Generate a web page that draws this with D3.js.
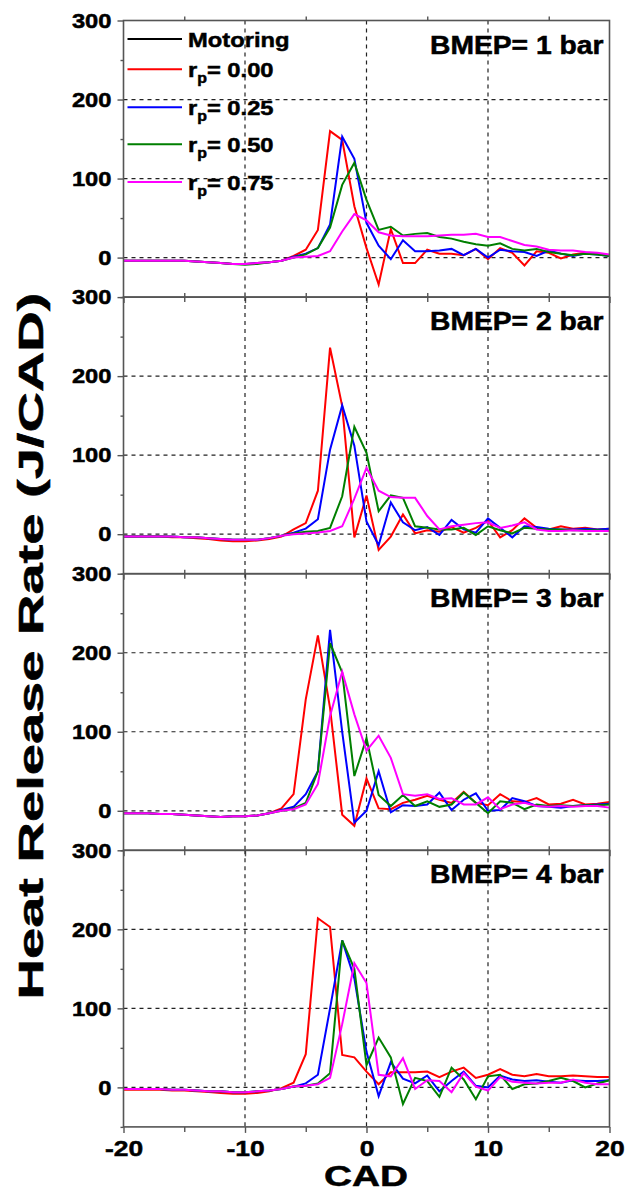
<!DOCTYPE html>
<html>
<head>
<meta charset="utf-8">
<script src="https://cdn.jsdelivr.net/npm/d3@7"></script>
<style>
  body { margin: 0; background: #fff; }
  text { font-family: "Liberation Sans", Arial, sans-serif; font-weight: bold; fill: #000;
         stroke: #000; stroke-width: 0.5px; }
</style>
</head>
<body>
<svg id="chart" width="637" height="1192"></svg>
<script>
// crank angle (CAD) of each sample
const cad = [-20,-19,-18,-17,-16,-15,-14,-13,-12,-11,-10,-9,-8,-7,-6,-5,-4,-3,-2,-1,0,
             1,2,3,4,5,6,7,8,9,10,11,12,13,14,15,16,17,18,19,20];

// heat release rate (J/CAD), one array per BMEP and r_p
const bmep1_rp000 = [-4,-4,-4,-4,-4,-4,-5,-6,-7,-8,-8,-7,-6,-4,2,10,35,160,149,65,12,-34,36,-7,-7,10,5,5,3,11,-2,12,6,-10,8,6,-1,4,6,5,3];
const bmep1_rp025 = [-4,-4,-4,-4,-4,-4,-5,-6,-7,-8,-8,-7,-6,-4,1,5,12,42,153,125,44,15,-2,22,8,8,9,11,3,11,0,10,8,7,2,9,5,2,5,4,2];
const bmep1_rp050 = [-4,-4,-4,-4,-4,-4,-5,-6,-7,-8,-9,-8,-6,-4,0,4,12,38,92,120,73,35,39,28,30,31,26,24,20,17,15,18,11,9,11,7,5,3,5,4,2];
const bmep1_rp075 = [-4,-4,-4,-4,-4,-4,-5,-6,-7,-8,-8,-7,-6,-4,0,1,2,8,33,55,47,32,28,27,27,27,28,29,29,30,26,26,21,16,14,10,9,9,7,6,4];

const bmep2_rp000 = [-3,-3,-3,-3,-4,-4,-5,-6,-8,-9,-9,-8,-6,-3,6,14,55,236,162,-4,49,-20,-3,25,1,5,3,9,2,8,17,-4,5,20,8,6,10,7,8,6,7];
const bmep2_rp025 = [-3,-3,-3,-3,-3,-4,-4,-5,-6,-7,-7,-7,-5,-2,2,7,19,107,163,112,16,-14,40,15,5,9,-1,18,6,2,20,8,-4,10,9,7,6,6,7,6,7];
const bmep2_rp050 = [-3,-3,-3,-3,-3,-4,-4,-5,-6,-7,-7,-7,-5,-2,1,3,4,8,48,136,103,29,49,46,10,8,6,6,8,-1,10,5,1,8,7,6,6,5,5,5,4];
const bmep2_rp075 = [-3,-3,-3,-3,-3,-4,-4,-5,-6,-7,-7,-7,-5,-2,0,1,2,4,10,45,84,55,47,46,46,23,6,10,12,14,15,8,11,15,6,4,4,5,4,4,4];

const bmep3_rp000 = [-3,-3,-3,-4,-4,-5,-6,-7,-8,-7,-7,-6,-3,3,21,141,222,130,-5,-19,41,3,2,10,14,19,14,10,24,10,7,21,12,11,16,8,9,14,8,9,11];
const bmep3_rp025 = [-3,-3,-3,-4,-4,-5,-6,-7,-8,-7,-7,-6,-3,1,5,21,50,229,100,-15,0,50,-2,7,6,8,23,1,14,22,0,1,16,12,6,5,4,6,7,8,9];
const bmep3_rp050 = [-3,-3,-3,-4,-4,-5,-6,-7,-8,-7,-7,-6,-3,0,3,10,50,212,175,44,92,20,6,20,6,12,5,8,23,10,-3,12,10,2,8,6,7,6,7,7,8];
const bmep3_rp075 = [-3,-3,-3,-4,-4,-5,-6,-7,-8,-7,-7,-6,-3,0,2,8,34,120,176,122,76,95,67,21,19,21,15,16,8,8,17,2,8,10,6,5,6,5,6,6,4];

const bmep4_rp000 = [-3,-3,-3,-3,-4,-4,-5,-6,-7,-8,-8,-7,-5,-1,6,42,214,203,41,38,20,4,19,19,19,20,13,20,25,12,16,23,16,14,17,14,14,15,14,13,13];
const bmep4_rp025 = [-2,-2,-2,-2,-3,-3,-4,-5,-5,-6,-6,-5,-4,-2,1,5,16,100,186,138,45,-11,32,11,5,15,-5,8,20,2,0,15,10,8,9,7,6,9,8,8,9];
const bmep4_rp050 = [-2,-2,-2,-2,-3,-3,-4,-5,-5,-6,-6,-5,-4,-2,1,2,5,18,186,150,28,63,38,-21,12,8,-12,25,10,-15,14,16,-2,4,5,8,12,8,0,5,9];
const bmep4_rp075 = [-2,-2,-2,-2,-3,-3,-4,-5,-5,-6,-6,-5,-4,-2,1,2,4,12,80,157,132,16,14,37,-2,9,8,-6,18,1,-4,13,7,6,5,6,6,10,6,4,4];

const panelLabels = ["BMEP= 1 bar", "BMEP= 2 bar", "BMEP= 3 bar", "BMEP= 4 bar"];
const panelSeries = [
  [bmep1_rp000, bmep1_rp025, bmep1_rp050, bmep1_rp075],
  [bmep2_rp000, bmep2_rp025, bmep2_rp050, bmep2_rp075],
  [bmep3_rp000, bmep3_rp025, bmep3_rp050, bmep3_rp075],
  [bmep4_rp000, bmep4_rp025, bmep4_rp050, bmep4_rp075]
];
const rpValues = ["0.00", "0.25", "0.50", "0.75"];
const seriesColors = ["#ff0000", "#0000ff", "#007f00", "#ff00ff"];

const xTicks = [-20, -10, 0, 10, 20], xMinor = [-15, -5, 5, 15];
const yTicks = [0, 100, 200, 300], yMinor = [-50, 50, 150, 250];
const xGrid = [-10, 0, 10], yGrid = [0, 100, 200];

// layout
const plotLeft = 123.5, plotRight = 609.5, top0 = 20.5, panelH = 276.6;
const stretch = 1.13;   // the original lettering is a bit wider than Arial

const svg = d3.select("#chart");
const x = d3.scaleLinear().domain([-20, 20]).range([plotLeft, plotRight]);

function widen(sel, k) {
  sel.each(function () {
    const w = this.getComputedTextLength();
    d3.select(this).attr("textLength", w * k).attr("lengthAdjust", "spacingAndGlyphs");
  });
}

panelSeries.forEach(function (series, i) {
  const top = top0 + i * panelH;
  const y = d3.scaleLinear().domain([-50, 300]).range([top + panelH, top]);
  const g = svg.append("g");

  // dashed grid
  g.selectAll(".hgrid").data(yGrid).join("line")
    .attr("x1", plotLeft).attr("x2", plotRight)
    .attr("y1", d => y(d)).attr("y2", d => y(d))
    .attr("stroke", "#222").attr("stroke-width", 1.2).attr("stroke-dasharray", "4,4");
  g.selectAll(".vgrid").data(xGrid).join("line")
    .attr("x1", d => x(d)).attr("x2", d => x(d))
    .attr("y1", top).attr("y2", top + panelH)
    .attr("stroke", "#222").attr("stroke-width", 1.2).attr("stroke-dasharray", "4,4");

  // curves
  const line = d3.line().x((d, j) => x(cad[j])).y(d => y(d));
  g.selectAll(".curve").data(series).join("path")
    .attr("fill", "none")
    .attr("stroke", (d, k) => seriesColors[k])
    .attr("stroke-width", 2)
    .attr("d", line);

  // frame
  g.append("rect")
    .attr("x", plotLeft).attr("y", top)
    .attr("width", plotRight - plotLeft).attr("height", panelH)
    .attr("fill", "none").attr("stroke", "#555").attr("stroke-width", 1.6);

  // y axis
  const yMaj = g.append("g").attr("transform", `translate(${plotLeft},0)`)
    .call(d3.axisLeft(y).tickValues(yTicks).tickSize(6).tickPadding(6).tickFormat(d3.format("d")));
  const yMin = g.append("g").attr("transform", `translate(${plotLeft},0)`)
    .call(d3.axisLeft(y).tickValues(yMinor).tickSize(3).tickFormat(""));
  [yMaj, yMin].forEach(a => {
    a.select(".domain").remove();
    a.selectAll("line").attr("stroke", "#555").attr("stroke-width", 1.4);
  });
  yMaj.selectAll("text").style("font-size", "21px").style("font-family", null).call(widen, stretch);

  // x ticks on top and bottom edge of each panel, labels only under the last one
  const last = i === panelSeries.length - 1;
  const xb = g.append("g").attr("transform", `translate(0,${top + panelH})`)
    .call(d3.axisBottom(x).tickValues(xTicks).tickSize(6).tickPadding(7)
      .tickFormat(d => last ? String(d) : ""));
  const xbm = g.append("g").attr("transform", `translate(0,${top + panelH})`)
    .call(d3.axisBottom(x).tickValues(xMinor).tickSize(5).tickFormat(""));
  const xt = g.append("g").attr("transform", `translate(0,${top})`)
    .call(d3.axisTop(x).tickValues(xMinor).tickSize(4).tickFormat(""));
  [xb, xbm, xt].forEach(a => {
    a.select(".domain").remove();
    a.selectAll("line").attr("stroke", "#555").attr("stroke-width", 1.4);
  });
  if (last) {
    xb.selectAll("text").style("font-size", "22px").style("font-family", null).call(widen, 1.2);
  } else {
    xb.selectAll("text").remove();
  }

  // panel label
  g.append("text")
    .attr("x", 603.5).attr("y", top + 33)
    .attr("text-anchor", "end")
    .style("font-size", "25px")
    .text(panelLabels[i])
    .call(widen, stretch);
});

// legend in the first panel
const legendY = [39, 69.3, 107.3, 144.3, 182];
const legend = svg.append("g");
const legendColors = ["#000"].concat(seriesColors);
legend.selectAll("line").data(legendY).join("line")
  .attr("x1", 127.5).attr("x2", 182)
  .attr("y1", d => d).attr("y2", d => d)
  .attr("stroke", (d, k) => legendColors[k]).attr("stroke-width", 2);

legend.append("text").attr("x", 188).attr("y", legendY[0] + 8)
  .style("font-size", "21px").text("Motoring").call(widen, stretch);

rpValues.forEach(function (v, k) {
  const t = legend.append("text").attr("x", 188).attr("y", legendY[k + 1] + 8)
    .style("font-size", "21px");
  t.append("tspan").text("r");
  t.append("tspan").attr("dy", 6).style("font-size", "14px").text("p");
  t.append("tspan").attr("dy", -6).text("= " + v);
  t.call(widen, stretch);
});

// axis titles
svg.append("text")
  .attr("transform", "translate(43,646) rotate(-90)")
  .attr("text-anchor", "middle")
  .style("font-size", "35px")
  .attr("textLength", 707).attr("lengthAdjust", "spacingAndGlyphs")
  .text("Heat Release Rate (J/CAD)");

svg.append("text")
  .attr("x", 366).attr("y", 1186)
  .attr("text-anchor", "middle")
  .style("font-size", "29px")
  .attr("textLength", 84).attr("lengthAdjust", "spacingAndGlyphs")
  .text("CAD");
</script>
</body>
</html>
